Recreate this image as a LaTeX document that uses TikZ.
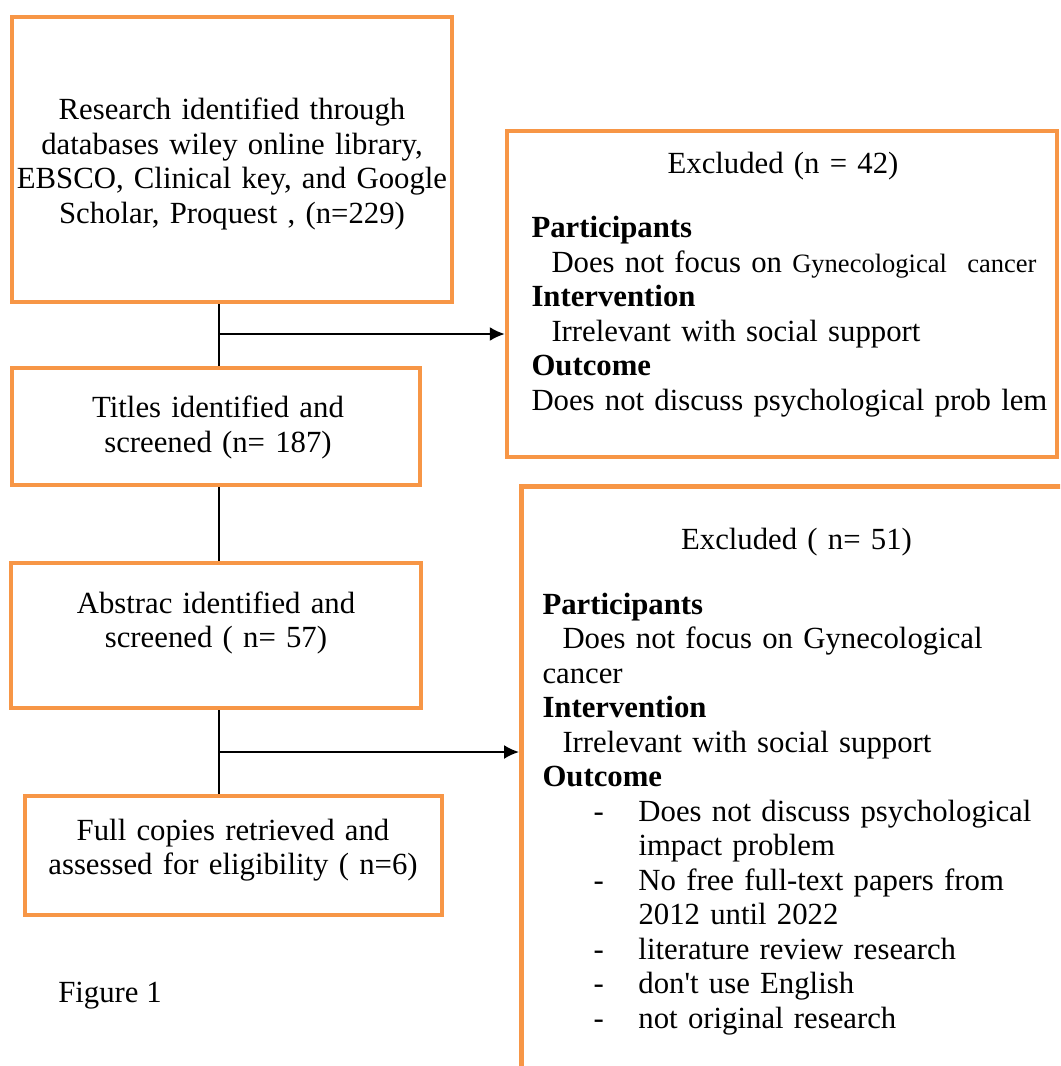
\documentclass[tikz,border=0pt]{standalone}
\usepackage{fontspec}
\setmainfont{Liberation Serif}
\usepackage{tikz}
\usetikzlibrary{shapes, arrows, arrows.meta, positioning}
\definecolor{prismaorange}{HTML}{F79646}
\tikzstyle{block} = [rectangle, draw=prismaorange, line width=1.8pt, inner sep=0pt]
\tikzstyle{blocktext} = [inner sep=0pt, text width=190pt, align=center, font=\fontsize{12.3}{13.8}\selectfont]
\tikzstyle{listtext} = [inner sep=0pt, text width=215pt, align=left, anchor=north west, font=\fontsize{12.3}{13.8}\selectfont]
\tikzstyle{line} = [draw, line width=0.8pt, -{Latex[length=6pt, width=5.6pt]}]
\tikzstyle{link} = [draw, line width=0.8pt]
\newcommand{\dashitem}[1]{\hspace*{20.4pt}\makebox[18pt][l]{-}#1}
\newcommand{\dashcont}[1]{\hspace*{38.4pt}#1}

\begin{document}
\begin{tikzpicture}[x=0.4pt, y=-0.4pt]
	\useasboundingbox (0,0) rectangle (1060,1066);
	\clip (0,0) rectangle (1060,1066);
	
	% Place boxes
	\node [block, minimum width=176pt, minimum height=114pt] 		(src) 		at (232,159.5) 	{};
	\node [block, minimum width=163.2pt, minimum height=46.8pt] 	(titles) 	at (216,426.5) 	{};
	\node [block, minimum width=164pt, minimum height=58pt] 		(abs) 		at (216,635.5) 	{};
	\node [block, minimum width=166.8pt, minimum height=47.6pt] 	(full) 		at (233.5,855.5) {};
	\node [block, minimum width=220pt, minimum height=130.4pt] 		(excla) 	at (782,294) 	{};
	\node [block, anchor=north west, minimum width=240pt, minimum height=250pt] (exclb) at (519,484) {};
	
	% Place texts
	\node [blocktext] (srctext) 	at (232,164) 	{Research identified through\\ databases wiley online library,\\ EBSCO, Clinical key, and Google\\ Scholar, Proquest , (n=229)};
	\node [blocktext] (titlestext) 	at (218,427.5) 	{Titles identified and\\ screened (n= 187)};
	\node [blocktext] (abstext) 	at (216,623) 	{Abstrac identified and\\ screened ( n= 57)};
	\node [blocktext] (fulltext) 	at (233,850) 	{Full copies retrieved and\\ assessed for eligibility ( n=6)};
	\node [listtext] (exclatext) 	at (531,152) 	{\makebox[201.2pt]{Excluded (n = 42)}\\[11.8pt]
		\textbf{Participants}\\
		\hspace*{8pt}Does not focus on {\fontsize{10.6}{13.8}\selectfont Gynecological\ \ cancer}\\
		\textbf{Intervention}\\
		\hspace*{8pt}Irrelevant with social support\\
		\textbf{Outcome}\\
		Does not discuss psychological prob lem};
	\node [listtext] (exclbtext) 	at (542,528) 	{\makebox[203.2pt]{Excluded ( n= 51)}\\[12pt]
		\textbf{Participants}\\
		\hspace*{8pt}Does not focus on Gynecological\\
		cancer\\
		\textbf{Intervention}\\
		\hspace*{8pt}Irrelevant with social support\\
		\textbf{Outcome}\\
		\dashitem{Does not discuss psychological}\\
		\dashcont{impact problem}\\
		\dashitem{No free full-text papers from}\\
		\dashcont{2012 until 2022}\\
		\dashitem{literature review research}\\
		\dashitem{don\textquotesingle t use English}\\
		\dashitem{not original research}};
	\node [inner sep=0pt, font=\fontsize{12.3}{13.8}\selectfont] (caption) at (110,996) {Figure 1};
	
	% Draw edges
	\coordinate (splita) at (219,334);
	\coordinate (splitb) at (219,752);
	\path [link] (splita |- src.south) 	-- 	(splita |- titles.north);
	\path [line] (splita) 				-- 	(splita -| excla.west);
	\path [link] (splita |- titles.south) -- 	(splita |- abs.north);
	\path [link] (splitb |- abs.south) 	-- 	(splitb |- full.north);
	\path [line] (splitb) 				-- 	(splitb -| exclb.west);
	
\end{tikzpicture}
\end{document}
